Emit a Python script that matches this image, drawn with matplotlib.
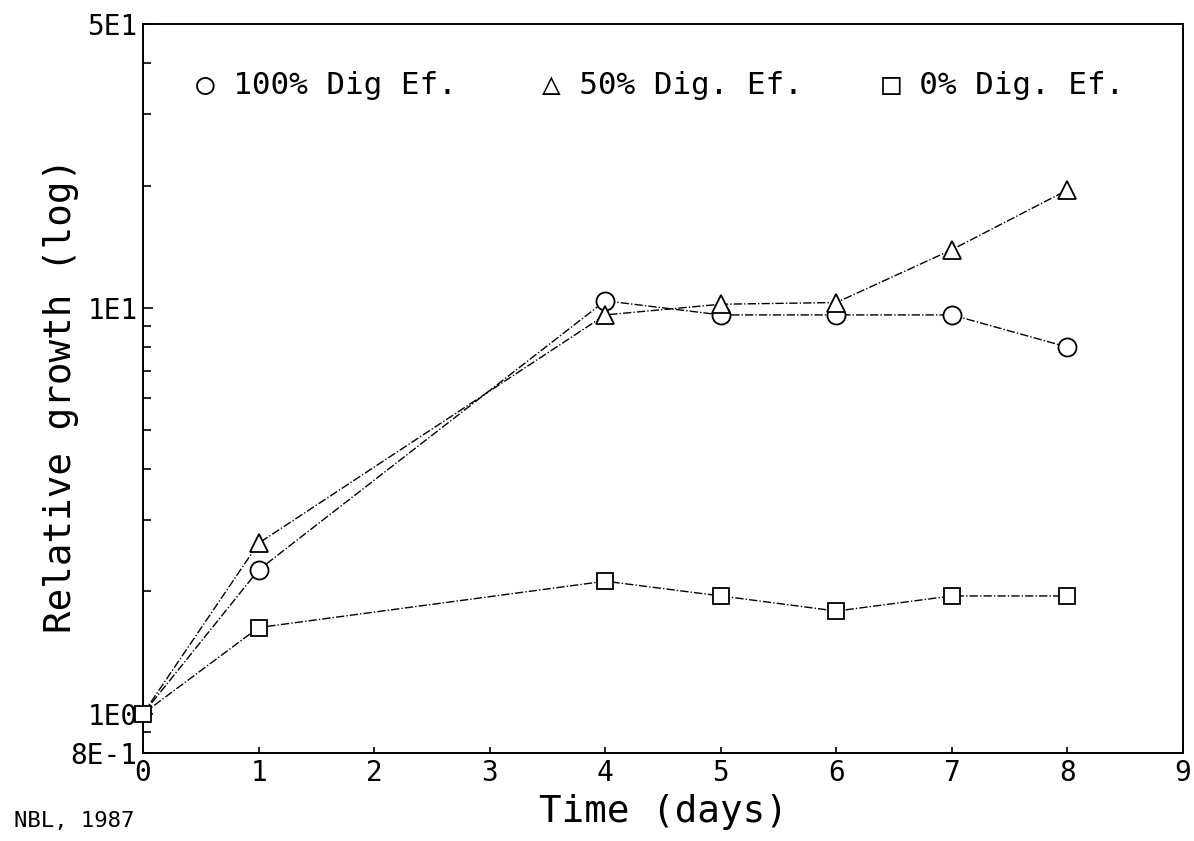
import matplotlib
matplotlib.use('Agg')
import matplotlib.pyplot as plt
from matplotlib.ticker import FixedLocator, NullFormatter

# data
days = [0, 1, 4, 5, 6, 7, 8]
dig100 = [1.0, 2.26, 10.4, 9.6, 9.6, 9.6, 8.0]
dig50 = [1.0, 2.63, 9.6, 10.2, 10.3, 13.9, 19.5]
dig0 = [1.0, 1.63, 2.12, 1.95, 1.79, 1.95, 1.95]

ytick_vals = [0.8, 1, 10, 50]
ytick_labels = ['8E-1', '1E0', '1E1', '5E1']
yminor_vals = [0.9, 2, 3, 4, 5, 6, 7, 8, 9, 20, 30, 40]
xtick_vals = list(range(10))

plt.rcParams['font.family'] = ['DejaVu Sans Mono', 'DejaVu Sans']

fig = plt.figure(figsize=(11.94, 8.41), dpi=100)
ax = fig.add_axes([0.1198, 0.1046, 0.871, 0.8669])

dash = (0, (6, 1.5, 1, 1.5))
ax.plot(days, dig100, color='black', lw=1.0, ls=dash, marker='o', ms=13,
        mfc='white', mec='black', mew=1.3, markevery=list(range(1, 7)), clip_on=False)
ax.plot(days, dig50, color='black', lw=1.0, ls=dash, marker='^', ms=13,
        mfc='white', mec='black', mew=1.3, markevery=list(range(1, 7)), clip_on=False)
ax.plot(days, dig0, color='black', lw=1.0, ls=dash, marker='s', ms=11,
        mfc='white', mec='black', mew=1.3, clip_on=False, zorder=5)

ax.set_yscale('log')
ax.set_xlim(0, 9)
ax.set_ylim(0.8, 50)

ax.set_xticks(xtick_vals)
ax.set_xticklabels([str(v) for v in xtick_vals], fontsize=20)
ax.yaxis.set_major_locator(FixedLocator(ytick_vals))
ax.set_yticklabels(ytick_labels, fontsize=20)
ax.yaxis.set_minor_locator(FixedLocator(yminor_vals))
ax.yaxis.set_minor_formatter(NullFormatter())
ax.tick_params(axis='x', direction='in', length=4, width=1.2, pad=4)
ax.tick_params(axis='y', which='major', direction='in', length=7, width=1.2, pad=4)
ax.tick_params(axis='y', which='minor', direction='in', length=6, width=1.2)

for sp in ax.spines.values():
    sp.set_linewidth(1.4)

ax.set_xlabel('Time (days)', fontsize=27)
ax.xaxis.set_label_coords(0.5, -0.056)
ax.set_ylabel('Relative growth (log)', fontsize=27)
ax.yaxis.set_label_coords(-0.062, 0.49)

# legend written as plotter labels
ax.text(0.051, 0.916, '\u25cb 100% Dig Ef.', fontsize=22.3, va='center', ha='left',
        transform=ax.transAxes)
ax.text(0.384, 0.916, '\u25b3 50% Dig. Ef.', fontsize=22.3, va='center', ha='left',
        transform=ax.transAxes)
ax.text(0.711, 0.916, '\u25a1 0% Dig. Ef.', fontsize=22.3, va='center', ha='left',
        transform=ax.transAxes)

fig.text(0.012, 0.024, 'NBL, 1987', fontsize=16, ha='left', va='center')

plt.savefig('out.png', dpi=100)
